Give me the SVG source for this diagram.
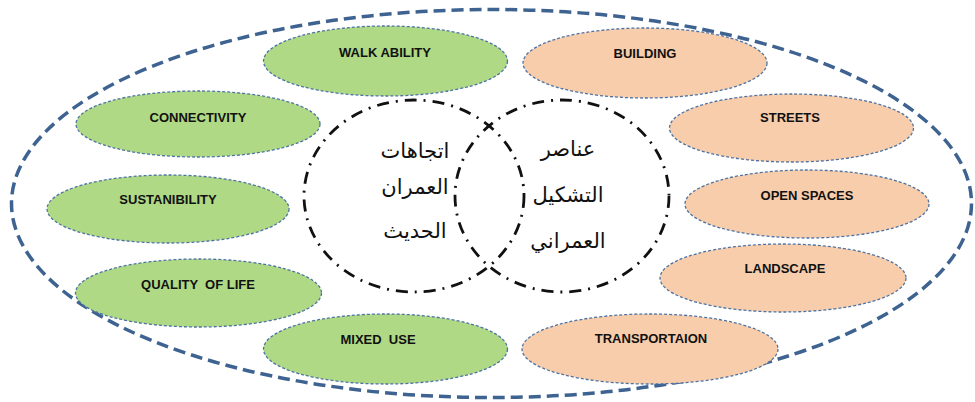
<svg xmlns="http://www.w3.org/2000/svg" width="975" height="402" viewBox="0 0 975 402">
<style>
.outer{fill:none;stroke:#3e6390;stroke-width:3.5;stroke-dasharray:12 6}
.ring{fill:none;stroke:#111;stroke-width:2.8;stroke-dasharray:12 7 2 7}
.g{fill:#afd985;stroke:#4d73a3;stroke-width:1.3;stroke-dasharray:3 2}
.p{fill:#f8cdab;stroke:#4d73a3;stroke-width:1.3;stroke-dasharray:3 2}
.t{font-family:"Liberation Sans",Arial,sans-serif;font-weight:bold;font-size:13px;fill:#111;text-anchor:middle;white-space:pre}
.ar{font-family:"DejaVu Sans","Noto Sans",sans-serif;font-size:21px;fill:#111;text-anchor:middle}
</style>
<rect width="975" height="402" fill="#fff"/>
<ellipse class="outer" cx="491.5" cy="203.5" rx="480" ry="194"/>
<g id="connectors">
<ellipse class="ring" cx="414" cy="196" rx="110" ry="96"/>
<ellipse class="ring" cx="562" cy="196" rx="107" ry="96"/>
</g>
<g id="center-left">
<text class="ar" x="415" y="158">اتجاهات</text>
<text class="ar" x="415" y="194">العمران</text>
<text class="ar" x="415" y="238">الحديث</text>
</g>
<g id="center-right">
<text class="ar" x="568" y="156">عناصر</text>
<text class="ar" x="568" y="202">التشكيل</text>
<text class="ar" x="568" y="248">العمراني</text>
</g>
<g id="walkability"><ellipse class="g" cx="385.5" cy="61" rx="122" ry="35"/><text class="t" x="385" y="57">WALK ABILITY</text></g>
<g id="connectivity"><ellipse class="g" cx="198" cy="124" rx="122" ry="33"/><text class="t" x="198" y="122">CONNECTIVITY</text></g>
<g id="sustanibility"><ellipse class="g" cx="168" cy="209" rx="121" ry="34"/><text class="t" x="168" y="204">SUSTANIBILITY</text></g>
<g id="quality"><ellipse class="g" cx="198.5" cy="293" rx="123" ry="34"/><text class="t" x="198" y="289">QUALITY  OF LIFE</text></g>
<g id="mixeduse"><ellipse class="g" cx="385.5" cy="349" rx="122" ry="35"/><text class="t" x="378" y="344">MIXED  USE</text></g>
<g id="building"><ellipse class="p" cx="645" cy="63" rx="122" ry="35"/><text class="t" x="645" y="58">BUILDING</text></g>
<g id="streets"><ellipse class="p" cx="791.5" cy="128" rx="122" ry="34"/><text class="t" x="790" y="122">STREETS</text></g>
<g id="openspaces"><ellipse class="p" cx="807" cy="204" rx="122" ry="34"/><text class="t" x="807" y="200">OPEN SPACES</text></g>
<g id="landscape"><ellipse class="p" cx="783" cy="278" rx="123" ry="34"/><text class="t" x="785" y="273">LANDSCAPE</text></g>
<g id="transportaion"><ellipse class="p" cx="650" cy="349" rx="128" ry="35"/><text class="t" x="651" y="343">TRANSPORTAION</text></g>
</svg>
